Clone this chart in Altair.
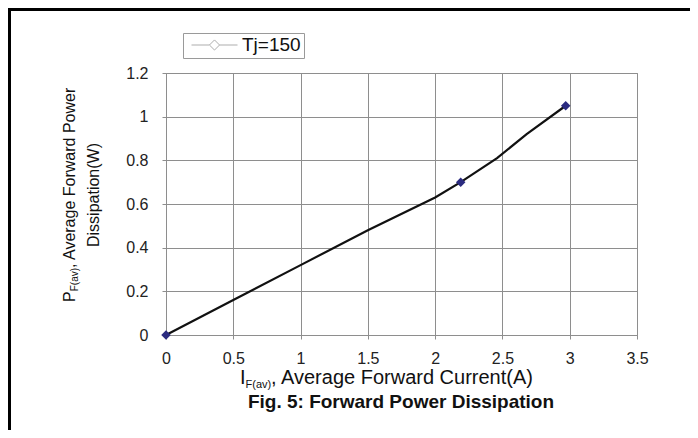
import altair as alt
import pandas as pd

# ---------------- data ----------------
line_current = [0, 0.5, 1.0, 1.5, 2.0, 2.19, 2.46, 2.68, 2.97]
line_power = [0, 0.16, 0.32, 0.48, 0.63, 0.70, 0.81, 0.92, 1.05]
marker_current = [0, 2.19, 2.97]
marker_power = [0, 0.70, 1.05]
series_name = "Tj=150"
x_ticks = [0, 0.5, 1, 1.5, 2, 2.5, 3, 3.5]
y_ticks = [0, 0.2, 0.4, 0.6, 0.8, 1.0, 1.2]

x_title_main = "I"
x_title_sub = "F(av)"
x_title_rest = ", Average Forward Current(A)"
y_title_main = "P"
y_title_sub = "F(av)"
y_title_rest = ", Average Forward Power"
y_title_line2 = "Dissipation(W)"
caption = "Fig. 5: Forward Power Dissipation"

FONT = "Liberation Sans"
W, H = 471, 262
GRID = "#8e8e8e"

line_df = pd.DataFrame({"current": line_current, "power": line_power})
marker_df = pd.DataFrame({"current": marker_current, "power": marker_power,
                          "series": [series_name] * len(marker_current)})

axis_style = dict(grid=True, gridColor=GRID, gridWidth=1, gridOpacity=1,
                  domainColor=GRID, tickColor=GRID, tickSize=4,
                  labelFont=FONT, labelFontSize=16, labelColor="#222222", title=None,
                  format="~g", labelFlush=False, labelOverlap=False)

x_scale = alt.Scale(domain=[0, 3.5], nice=False, zero=False)
y_scale = alt.Scale(domain=[0, 1.2], nice=False, zero=False)
x_axis = alt.Axis(values=x_ticks, labelPadding=11, **axis_style)
y_axis = alt.Axis(values=y_ticks, labelPadding=14, **axis_style)

line = alt.Chart(line_df).mark_line(color="#111111", strokeWidth=2.2).encode(
    x=alt.X("current:Q", scale=x_scale, axis=x_axis),
    y=alt.Y("power:Q", scale=y_scale, axis=y_axis),
)

markers = alt.Chart(marker_df).mark_point(shape="diamond", filled=True, size=90,
                                          color="#2b2b80", opacity=1).encode(
    x="current:Q", y="power:Q"
)

legend_path = "M-1,0L-0.22,0M0.22,0L1,0M0,-0.22L0.22,0L0,0.22L-0.22,0Z"
legend_layer = alt.Chart(marker_df).mark_point(size=0, filled=False).encode(
    x="current:Q", y="power:Q",
    color=alt.Color("series:N", scale=alt.Scale(range=["#8c8c8c"]),
                    legend=alt.Legend(
                        orient="none", legendX=17, legendY=-40, title=None,
                        symbolType=legend_path, symbolSize=2116, clipHeight=18,
                        symbolStrokeWidth=1, symbolFillColor="white",
                        symbolStrokeColor="#8c8c8c", symbolOffset=5,
                        labelFont=FONT, labelFontSize=19, labelColor="#111111",
                        labelOffset=4, padding=3, strokeColor="#9a9a9a",
                        fillColor="white",
                        labelExpr="datum.label + '\u00a0\u00a0\u00a0\u00a0'")),
)


def text_layer(txt, x, y, size, angle=0, align="left", weight="normal", baseline="alphabetic"):
    return alt.Chart(pd.DataFrame({"t": [txt]})).mark_text(
        font=FONT, fontSize=size, fontWeight=weight, align=align, baseline=baseline,
        angle=angle, color="#111111"
    ).encode(text="t:N", x=alt.value(x), y=alt.value(y))


titles = [
    text_layer(x_title_main, 74, 311, 20),
    text_layer(x_title_sub, 79.6, 315, 11),
    text_layer(x_title_rest, 105, 311, 20),
    text_layer(caption, 235, 335, 19, align="center", weight="bold"),
    text_layer(y_title_main, -91, 229, 16, angle=270),
    text_layer(y_title_sub, -88, 218.3, 10, angle=270),
    text_layer(y_title_rest, -91, 195, 16, angle=270),
    text_layer(y_title_line2, -67, 122, 16, angle=270, align="center"),
]

frame_df = pd.DataFrame({"k": [0]})
frame_top = alt.Chart(frame_df).mark_rule(color="black", strokeWidth=3).encode(
    x=alt.value(-158), x2=alt.value(524), y=alt.value(-63.5))
frame_left = alt.Chart(frame_df).mark_rule(color="black", strokeWidth=3).encode(
    x=alt.value(-156.5), y=alt.value(-65), y2=alt.value(357))

chart = alt.layer(line, markers, legend_layer, *titles, frame_top, frame_left).properties(
    width=W, height=H,
    padding={"left": 158, "top": 65, "right": 53, "bottom": 95},
    autosize=alt.AutoSizeParams(type="none"),
    background="white",
).configure_view(stroke=GRID)

chart.save("out.html", embed_options={"renderer": "svg", "actions": False})
